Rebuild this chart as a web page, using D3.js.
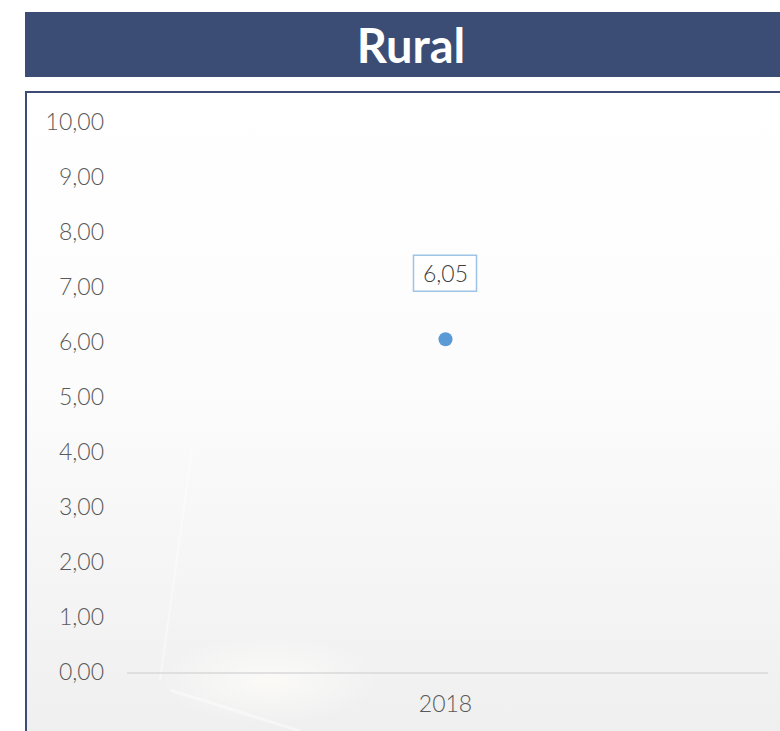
<!DOCTYPE html>
<html>
<head>
<meta charset="utf-8">
<script src="https://cdn.jsdelivr.net/npm/d3@7"></script>
<style>
  body{margin:0;background:#fff;overflow:hidden;}
</style>
</head>
<body>
<div class="chart"></div>
<script>
const width=780,
      height=731,
      font='Lato';

const title="Rural";
const years=["2018"];
const values=[6.05];
const yTicks=[0,1,2,3,4,5,6,7,8,9,10];

const fmt=d=>d3.format(".2f")(d).replace(".",",");

let svg=d3.select(".chart").append("svg")
  .attr("width",width)
  .attr("height",height);

let defs=svg.append("defs");
let bg=defs.append("linearGradient").attr("id","bg")
  .attr("x1",0).attr("y1",0).attr("x2",0).attr("y2",1);
bg.append("stop").attr("offset","0%").attr("stop-color","#ffffff");
bg.append("stop").attr("offset","40%").attr("stop-color","#fcfcfc");
bg.append("stop").attr("offset","100%").attr("stop-color","#ececec");
let glare=defs.append("radialGradient").attr("id","glare");
glare.append("stop").attr("offset","0%").attr("stop-color","#fffef9").attr("stop-opacity",0.7);
glare.append("stop").attr("offset","100%").attr("stop-color","#ffffff").attr("stop-opacity",0);

// title band
svg.append("rect")
  .attr("x",25).attr("y",12).attr("width",width-25).attr("height",65)
  .attr("fill","#3b4d74");
svg.append("text")
  .attr("x",411).attr("y",63)
  .attr("text-anchor","middle")
  .style("font-family",font).style("font-weight","bold")
  .style("font-size","47px").style("fill","#fff")
  .text(title);

// chart frame
svg.append("rect")
  .attr("x",26).attr("y",92).attr("width",width).attr("height",height)
  .attr("fill","url(#bg)")
  .attr("stroke","#3b4d74").attr("stroke-width",2);

// soft light glare near the bottom
svg.append("ellipse")
  .attr("cx",270).attr("cy",680).attr("rx",110).attr("ry",45)
  .attr("fill","url(#glare)");
svg.append("line")
  .attr("x1",192).attr("y1",450).attr("x2",160).attr("y2",680)
  .attr("stroke","#ffffff").attr("stroke-width",2).attr("opacity",0.45);
svg.append("line")
  .attr("x1",170).attr("y1",690).attr("x2",300).attr("y2",731)
  .attr("stroke","#ffffff").attr("stroke-width",3).attr("opacity",0.45);

let x=d3.scaleBand().domain(years).range([127,764]);
let y=d3.scaleLinear().domain([0,10]).range([672,122]);

// y axis labels
svg.append("g").selectAll("text")
  .data(yTicks).enter().append("text")
  .attr("x",104).attr("y",d=>y(d)+8)
  .attr("text-anchor","end")
  .style("font-family",font).style("font-weight",300)
  .style("font-size","23px").style("fill","#595959")
  .text(fmt);

// baseline
svg.append("line")
  .attr("x1",127).attr("x2",768)
  .attr("y1",y(0)+1).attr("y2",y(0)+1)
  .attr("stroke","#d9d9d9").attr("stroke-width",1.5);

// x labels
svg.append("g").selectAll("text")
  .data(years).enter().append("text")
  .attr("x",d=>x(d)+x.bandwidth()/2).attr("y",712)
  .attr("text-anchor","middle")
  .style("font-family",font).style("font-weight",300)
  .style("font-size","23px").style("fill","#595959")
  .text(d=>d);

// points
let pts=svg.append("g").selectAll("g")
  .data(values).enter().append("g");
pts.append("circle")
  .attr("cx",(d,i)=>x(years[i])+x.bandwidth()/2)
  .attr("cy",d=>y(d))
  .attr("r",7)
  .attr("fill","#5b9bd5");
pts.append("rect")
  .attr("x",(d,i)=>x(years[i])+x.bandwidth()/2-32)
  .attr("y",d=>y(d)-84)
  .attr("width",63).attr("height",36)
  .attr("fill","#fff")
  .attr("stroke","#9dc3e6").attr("stroke-width",1.5);
pts.append("text")
  .attr("x",(d,i)=>x(years[i])+x.bandwidth()/2)
  .attr("y",d=>y(d)-57)
  .attr("text-anchor","middle")
  .style("font-family",font).style("font-weight",300)
  .style("font-size","23px").style("fill","#404040")
  .text(fmt);
</script>
</body>
</html>
